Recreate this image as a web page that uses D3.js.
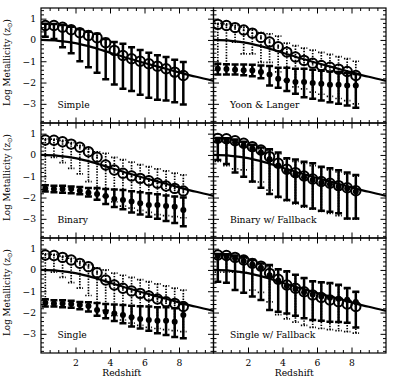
<!DOCTYPE html>
<html><head><meta charset="utf-8">
<script src="https://cdn.jsdelivr.net/npm/d3@7"></script>
<style>
body{margin:0;background:#fff}
svg{display:block}
text{font-family:"DejaVu Serif",serif;fill:#000}
</style>
</head><body>
<svg id="c" width="400" height="382"></svg>
<script>
// ---------- data ----------
const redshift = [0.25,0.75,1.25,1.75,2.25,2.75,3.25,3.75,4.25,4.75,5.25,5.75,6.25,6.75,7.25,7.75,8.25];
const xTicksMajor = [2,4,6,8];
const yTicksMajor = [-3,-2,-1,0,1];
const panelLabels = ["Simple","Yoon & Langer","Binary","Binary w/ Fallback","Single","Single w/ Fallback"];

// solid model curve
const curveZ    = [0,1,2,3,4,5,6,7,8,9,10];
const curveLogZ = [0,-0.04,-0.15,-0.35,-0.6,-0.85,-1.08,-1.3,-1.52,-1.73,-1.92];

// Simple
const simpleOpen = [0.68,0.68,0.6,0.48,0.34,0.21,0.1,-0.13,-0.49,-0.73,-0.88,-1.0,-1.12,-1.23,-1.35,-1.51,-1.67];
const simpleUp   = [0.76,0.75,0.7,0.62,0.5,0.38,0.29,0.05,-0.1,-0.18,-0.34,-0.47,-0.6,-0.72,-0.8,-0.93,-1.04];
const simpleLo   = [0.15,0.05,-0.34,-0.62,-1.0,-1.28,-1.54,-1.85,-2.09,-2.29,-2.4,-2.57,-2.71,-2.81,-2.84,-2.92,-3.03];

// Yoon & Langer
const ylOpen   = [0.73,0.68,0.58,0.47,0.32,0.12,-0.1,-0.32,-0.57,-0.8,-0.96,-1.09,-1.2,-1.28,-1.37,-1.48,-1.67];
const ylDotUp  = [0.78,0.75,0.68,0.6,0.48,0.35,0.29,0.18,-0.15,-0.27,-0.38,-0.48,-0.58,-0.68,-0.78,-0.88,-1.0];
const ylDotLo  = [-1.15,-1.15,-0.1,-0.65,-0.65,-1.05,-1.05,-1.5,-1.9,-2.2,-2.3,-2.45,-2.55,-2.65,-2.75,-2.85,-3.0];
const ylFill   = [-1.35,-1.37,-1.4,-1.42,-1.43,-1.51,-1.62,-1.82,-1.9,-1.98,-1.98,-2.02,-2.06,-2.1,-2.1,-2.14,-2.14];
const ylFillUp = [-1.12,-1.14,-1.15,-1.15,-1.17,-1.2,-1.22,-1.3,-1.3,-1.35,-1.35,-1.4,-1.45,-1.48,-1.5,-1.55,-1.6];
const ylFillLo = [-1.62,-1.62,-1.62,-1.66,-1.7,-1.8,-2.14,-2.25,-2.4,-2.53,-2.69,-2.76,-2.84,-2.92,-3.0,-3.08,-3.18];

// Binary
const binOpen   = [0.7,0.69,0.62,0.51,0.36,0.15,-0.11,-0.47,-0.71,-0.86,-0.99,-1.1,-1.21,-1.33,-1.46,-1.57,-1.69];
const binDotUp  = [0.75,0.74,0.68,0.58,0.45,0.3,0.15,0.08,-0.11,-0.22,-0.34,-0.45,-0.55,-0.65,-0.75,-0.85,-0.94];
const binDotLo  = [-1.4,-0.11,-0.36,-0.63,-0.89,-1.25,-1.6,-1.95,-2.2,-2.4,-2.5,-2.6,-2.7,-2.8,-2.85,-2.9,-2.95];
const binFill   = [-1.57,-1.6,-1.6,-1.6,-1.68,-1.77,-1.83,-1.93,-2.07,-2.12,-2.19,-2.27,-2.35,-2.35,-2.4,-2.43,-2.58];
const binFillUp = [-1.42,-1.45,-1.45,-1.48,-1.5,-1.55,-1.55,-1.6,-1.62,-1.65,-1.7,-1.75,-1.8,-1.85,-1.9,-1.95,-2.0];
const binFillLo = [-1.72,-1.75,-1.78,-1.8,-1.85,-1.95,-2.1,-2.3,-2.45,-2.55,-2.7,-2.8,-2.9,-3.0,-3.1,-3.2,-3.35];

// Binary w/ Fallback
const bwfOpen  = [0.78,0.76,0.67,0.55,0.39,0.23,-0.08,-0.39,-0.67,-0.83,-0.99,-1.13,-1.25,-1.33,-1.44,-1.54,-1.68];
const bwfUp    = [0.8,0.78,0.72,0.62,0.48,0.35,0.27,0.11,-0.16,-0.21,-0.32,-0.39,-0.55,-0.63,-0.72,-0.83,-0.94];
const bwfLo    = [-0.24,-0.42,-0.83,-1.02,-1.25,-1.54,-1.83,-1.96,-2.12,-2.24,-2.4,-2.51,-2.62,-2.67,-2.74,-2.98,-2.98];
const bwfDotUp = [0.78,0.76,0.7,0.6,0.45,0.3,0.2,0.05,-0.2,-0.3,-0.4,-0.5,-0.6,-0.7,-0.8,-0.9,-1.0];
const bwfDotLo = [-0.3,-0.5,-0.65,-0.7,-1.27,-1.27,-1.65,-2.0,-2.15,-2.3,-2.45,-2.55,-2.65,-2.75,-2.85,-3.0,-3.02];
const bwfFill  = [0.7,0.68,0.6,0.45,0.3,0.12,-0.2,-0.5,-0.75,-0.9,-1.05,-1.18,-1.3,-1.38,-1.48,-1.58,-1.72];

// Single
const sinOpen   = [0.7,0.68,0.59,0.47,0.31,0.15,-0.13,-0.47,-0.71,-0.86,-0.99,-1.1,-1.22,-1.36,-1.49,-1.57,-1.72];
const sinDotUp  = [0.75,0.73,0.65,0.55,0.4,0.25,0.1,0.0,-0.15,-0.25,-0.35,-0.45,-0.55,-0.65,-0.75,-0.85,-0.95];
const sinDotLo  = [-1.4,-0.1,-0.35,-0.6,-0.85,-1.2,-1.55,-1.9,-2.15,-2.35,-2.5,-2.6,-2.7,-2.75,-2.8,-2.85,-2.9];
const sinFill   = [-1.54,-1.57,-1.57,-1.6,-1.65,-1.69,-1.88,-1.96,-2.04,-2.11,-2.22,-2.3,-2.35,-2.38,-2.38,-2.43,-2.11];
const sinFillUp = [-1.38,-1.42,-1.42,-1.45,-1.5,-1.52,-1.55,-1.6,-1.62,-1.65,-1.68,-1.7,-1.72,-1.75,-1.75,-1.8,-1.6];
const sinFillLo = [-1.72,-1.72,-1.75,-1.78,-1.85,-1.95,-2.15,-2.27,-2.4,-2.5,-2.66,-2.75,-2.85,-2.97,-3.05,-3.15,-3.21];

// Single w/ Fallback
const swfOpen  = [0.7,0.68,0.59,0.47,0.31,0.18,-0.16,-0.44,-0.71,-0.86,-1.02,-1.18,-1.29,-1.41,-1.49,-1.6,-1.72];
const swfUp    = [0.75,0.74,0.68,0.6,0.48,0.3,0.23,0.03,-0.06,-0.22,-0.38,-0.53,-0.58,-0.61,-0.7,-0.85,-1.02];
const swfLo    = [-0.55,-0.6,-0.94,-1.07,-1.25,-1.41,-1.88,-1.96,-2.04,-2.15,-2.27,-2.35,-2.38,-2.43,-2.45,-2.48,-2.7];
const swfDotUp = [0.72,0.7,0.64,0.55,0.42,0.28,0.15,0.0,-0.1,-0.25,-0.4,-0.55,-0.6,-0.65,-0.75,-0.88,-1.05];
const swfDotLo = [-0.1,-0.1,-0.1,-0.12,-0.95,-1.05,-1.5,-2.1,-2.3,-2.45,-2.6,-2.7,-2.75,-2.8,-2.85,-2.9,-2.97];
const swfFill  = [0.65,0.63,0.55,0.42,0.25,0.1,-0.25,-0.5,-0.75,-0.9,-1.05,-1.15,-1.25,-1.3,-1.35,-1.4,-1.5];

// ---------- layout ----------
const colX = [[41,213.5],[213.5,386]];
const rowY = [[8,123],[123,238],[238,353]];
const xDomain = [0,10], yDomain = [-3.9,1.5];

const panels = [
  {label:panelLabels[0], r:0, c:0, open:simpleOpen, sUp:simpleUp, sLo:simpleLo},
  {label:panelLabels[1], r:0, c:1, open:ylOpen, dUp:ylDotUp, dLo:ylDotLo, fill:ylFill, fUp:ylFillUp, fLo:ylFillLo},
  {label:panelLabels[2], r:1, c:0, open:binOpen, dUp:binDotUp, dLo:binDotLo, fill:binFill, fUp:binFillUp, fLo:binFillLo},
  {label:panelLabels[3], r:1, c:1, open:bwfOpen, sUp:bwfUp, sLo:bwfLo, dUp:bwfDotUp, dLo:bwfDotLo, fill:bwfFill},
  {label:panelLabels[4], r:2, c:0, open:sinOpen, dUp:sinDotUp, dLo:sinDotLo, fill:sinFill, fUp:sinFillUp, fLo:sinFillLo},
  {label:panelLabels[5], r:2, c:1, open:swfOpen, sUp:swfUp, sLo:swfLo, dUp:swfDotUp, dLo:swfDotLo, fill:swfFill}
];

const svg = d3.select("#c");
const minorX = d3.range(0.5, 10, 0.5).filter(v => v % 2 !== 0);
const minorY = d3.range(-3.8, 1.5, 0.2).map(v => +v.toFixed(1)).filter(v => Math.abs(v - Math.round(v)) > 1e-6);
const fmtY = d => d < 0 ? "\u2212" + Math.abs(d) : String(d);

panels.forEach(p => {
  const x = d3.scaleLinear().domain(xDomain).range(colX[p.c]);
  const y = d3.scaleLinear().domain(yDomain).range([rowY[p.r][1], rowY[p.r][0]]);
  const g = svg.append("g");
  const x0 = colX[p.c][0], x1 = colX[p.c][1], y0 = rowY[p.r][0], y1 = rowY[p.r][1];

  const addAxis = (axis, tr, labels) => {
    const a = g.append("g").attr("transform", tr).call(axis);
    a.select(".domain").remove();
    a.selectAll("line").attr("stroke","#000").attr("stroke-width",1);
    a.selectAll("text").style("font-family","DejaVu Serif, serif").style("font-size","9.2px").attr("fill","#000");
    if (!labels) a.selectAll("text").remove();
    return a;
  };
  addAxis(d3.axisBottom(x).tickValues(xTicksMajor).tickSizeInner(-5.5).tickSizeOuter(0).tickPadding(6), `translate(0,${y1})`, p.r === 2);
  addAxis(d3.axisBottom(x).tickValues(minorX).tickSizeInner(-3).tickSizeOuter(0).tickFormat(""), `translate(0,${y1})`, false);
  addAxis(d3.axisTop(x).tickValues(xTicksMajor).tickSizeInner(-5.5).tickSizeOuter(0), `translate(0,${y0})`, false);
  addAxis(d3.axisTop(x).tickValues(minorX).tickSizeInner(-3).tickSizeOuter(0), `translate(0,${y0})`, false);
  addAxis(d3.axisLeft(y).tickValues(yTicksMajor).tickSizeInner(-5.5).tickSizeOuter(0).tickPadding(5).tickFormat(fmtY), `translate(${x0},0)`, p.c === 0);
  addAxis(d3.axisLeft(y).tickValues(minorY).tickSizeInner(-3).tickSizeOuter(0), `translate(${x0},0)`, false);
  addAxis(d3.axisRight(y).tickValues(yTicksMajor).tickSizeInner(-5.5).tickSizeOuter(0), `translate(${x1},0)`, false);
  addAxis(d3.axisRight(y).tickValues(minorY).tickSizeInner(-3).tickSizeOuter(0), `translate(${x1},0)`, false);

  g.append("rect").attr("x",x0).attr("y",y0).attr("width",x1-x0).attr("height",y1-y0)
    .attr("fill","none").attr("stroke","#000").attr("stroke-width",1.2);

  const clipId = "clip"+p.r+p.c;
  svg.append("clipPath").attr("id",clipId).append("rect")
     .attr("x",x0).attr("y",y0).attr("width",x1-x0).attr("height",y1-y0);
  const pg = g.append("g").attr("clip-path",`url(#${clipId})`);

  pg.append("path").datum(curveZ.map((z,i)=>[z,curveLogZ[i]]))
    .attr("d", d3.line().x(d=>x(d[0])).y(d=>y(d[1])).curve(d3.curveMonotoneX))
    .attr("fill","none").attr("stroke","#000").attr("stroke-width",2.2);

  const bars = (up, lo, sw, dash, capW) => {
    const bg = pg.append("g").attr("stroke","#000").attr("stroke-width",sw).attr("fill","none");
    if (dash) bg.attr("stroke-dasharray",dash);
    redshift.forEach((z,i) => {
      const xx = x(z);
      bg.append("line").attr("x1",xx).attr("x2",xx).attr("y1",y(up[i])).attr("y2",y(lo[i]));
      bg.append("line").attr("x1",xx-capW/2).attr("x2",xx+capW/2).attr("y1",y(up[i])).attr("y2",y(up[i]));
      bg.append("line").attr("x1",xx-capW/2).attr("x2",xx+capW/2).attr("y1",y(lo[i])).attr("y2",y(lo[i]));
    });
  };
  if (p.dUp) bars(p.dUp, p.dLo, 1.7, "1.4,1.4", 6.5);
  if (p.sUp) bars(p.sUp, p.sLo, 2.5, null, 7);
  if (p.fUp) bars(p.fUp, p.fLo, 2.5, null, 7);

  if (p.fill) {
    pg.append("g").selectAll("circle").data(redshift).join("circle")
      .attr("cx", d=>x(d)).attr("cy",(d,i)=>y(p.fill[i])).attr("r",3).attr("fill","#000");
  }
  const og = pg.append("g");
  og.selectAll("circle.o").data(redshift).join("circle").attr("class","o")
    .attr("cx", d=>x(d)).attr("cy",(d,i)=>y(p.open[i])).attr("r",4.7)
    .attr("fill","none").attr("stroke","#000").attr("stroke-width",2);
  og.selectAll("circle.dot").data(redshift).join("circle").attr("class","dot")
    .attr("cx", d=>x(d)).attr("cy",(d,i)=>y(p.open[i])).attr("r",1).attr("fill","#000");

  g.append("text").attr("x",x(0.95)).attr("y",y(-3.2)).style("font-size","9.2px").text(p.label);

  if (p.c === 0) {
    const cy = (y0+y1)/2 - 3;
    const t = g.append("text").attr("transform",`translate(9.5,${cy}) rotate(-90)`)
      .attr("text-anchor","middle").style("font-size","8.8px");
    t.append("tspan").text("Log Metallicity (z");
    t.append("tspan").attr("dy",2).style("font-size","6.5px").style("font-family","DejaVu Sans, sans-serif").text("\u2299");
    t.append("tspan").attr("dy",-2).text(")");
  }
  if (p.r === 2) {
    g.append("text").attr("x",x(4.68)).attr("y",376).attr("text-anchor","middle")
      .style("font-size","9.2px").text("Redshift");
  }
});
</script>
</body></html>
